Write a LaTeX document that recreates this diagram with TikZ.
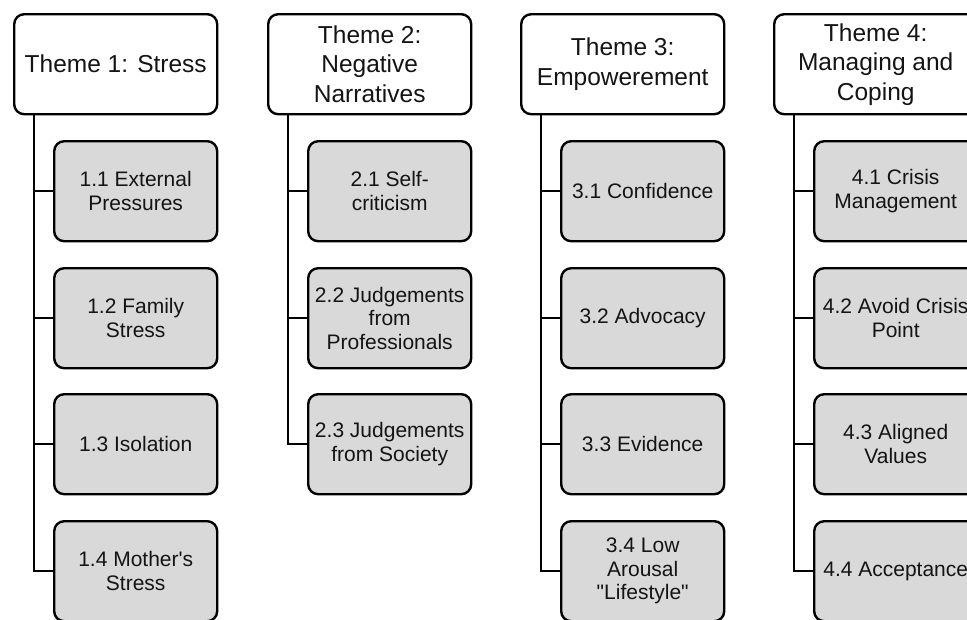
\documentclass[tikz,border=0pt]{standalone}
\usepackage{fontspec}
\setmainfont{Liberation Sans}
\definecolor{subfill}{HTML}{D9D9D9}
\definecolor{txt}{HTML}{141414}
\tikzset{
  themebox/.style={draw=black, line width=2.4pt, rounded corners=10pt, fill=white,
    minimum width=203pt, minimum height=100pt, inner sep=2pt, align=center,
    anchor=north west, text=txt,
    font=\fontsize{24.5}{29.5}\selectfont},
  subbox/.style={draw=black, line width=2.4pt, rounded corners=10pt, fill=subfill,
    minimum width=163pt, minimum height=100pt, inner sep=2pt, align=center,
    anchor=north west, text=txt,
    font=\fontsize{21}{23.5}\selectfont},
  link/.style={draw=black, line width=2.4pt}
}
\begin{document}
\begin{tikzpicture}[x=1pt,y=-1pt]
\useasboundingbox (0,0) rectangle (967,619);
\clip (0,0) rectangle (967,619);
% Column 1
\node[themebox] (t1) at (13,13) {Theme 1: Stress};
\node[subbox] (s11) at (53,140) {1.1 External\\Pressures};
\node[subbox] (s12) at (53,267) {1.2 Family\\Stress};
\node[subbox] (s13) at (53,393) {1.3 Isolation};
\node[subbox] (s14) at (53,520) {1.4 Mother\textquotesingle s\\Stress};
% Column 2
\node[themebox] (t2) at (267,13) {Theme 2:\\Negative\\Narratives};
\node[subbox] (s21) at (307,140) {2.1 Self-\\criticism};
\node[subbox] (s22) at (307,267) {2.2 Judgements\\from\\Professionals};
\node[subbox] (s23) at (307,393) {2.3 Judgements\\from Society};
% Column 3
\node[themebox] (t3) at (520,13) {Theme 3:\\Empowerement};
\node[subbox] (s31) at (560,140) {3.1 Confidence};
\node[subbox] (s32) at (560,267) {3.2 Advocacy};
\node[subbox] (s33) at (560,393) {3.3 Evidence};
\node[subbox] (s34) at (560,520) {3.4 Low\\Arousal\\\textquotedbl Lifestyle\textquotedbl};
% Column 4
\node[themebox] (t4) at (773,13) {Theme 4:\\Managing and\\Coping};
\node[subbox] (s41) at (813,140) {4.1 Crisis\\Management};
\node[subbox] (s42) at (813,267) {4.2 Avoid Crisis\\Point};
\node[subbox] (s43) at (813,393) {4.3 Aligned\\Values};
\node[subbox] (s44) at (813,520) {4.4 Acceptance};
% Connectors
\foreach \t/\s in {t1/s11,t1/s12,t1/s13,t1/s14,t2/s21,t2/s22,t2/s23,t3/s31,t3/s32,t3/s33,t3/s34,t4/s41,t4/s42,t4/s43,t4/s44}{
  \draw[link] ([xshift=21pt]\t.south west) |- (\s.west);
}
\end{tikzpicture}
\end{document}
